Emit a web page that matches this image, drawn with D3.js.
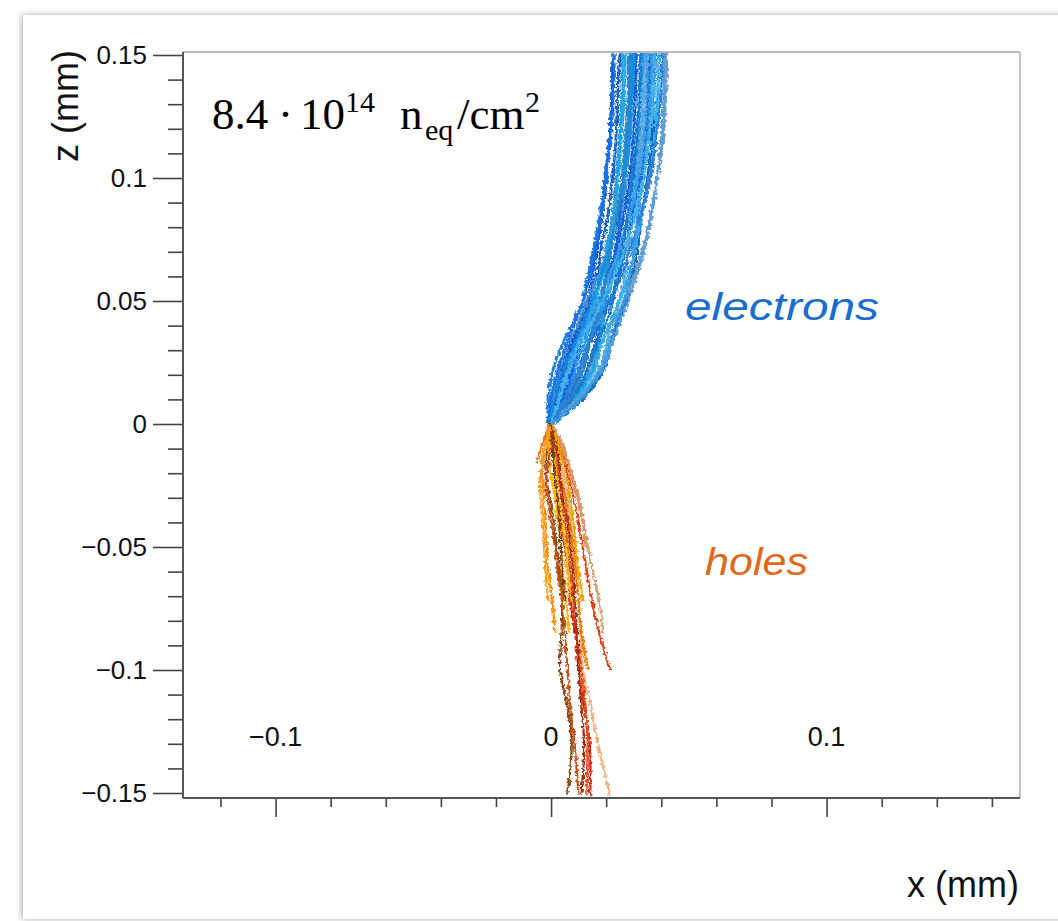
<!DOCTYPE html>
<html>
<head>
<meta charset="utf-8">
<script src="https://cdn.jsdelivr.net/npm/d3@7"></script>
<style>
  body { margin: 0; background: #fff; }
  .axis text { font-family: "Liberation Sans", Arial, Helvetica, sans-serif; fill: #111; }
  .axis line { stroke: #444; stroke-width: 1.6; }
  .axis path { display: none; }
</style>
</head>
<body>
<div id="chart"></div>
<script>
var eZ = [0, 8, 16, 24, 32, 40, 50, 60, 72, 85, 100, 115, 130, 151];
var hZ = [0, -8, -16, -24, -32, -40, -50, -60, -72, -85, -100, -115, -130, -151];

// electron paths, x in micrometres at each eZ level
var electronX = [
  [-1.0, -1.2, -0.6, 1.2, 4.0, 7.6, 11.3, 13.4, 15.6, 17.8, 19.5, 21.0, 22.0, 22.4],
  [-0.5, 1.2, 2.0, 4.5, 7.2, 9.8, 13.5, 15.0, 16.8, 18.6, 20.1, 21.2, 21.9, 22.6],
  [-0.3, 2.8, 5.0, 7.0, 9.0, 12.3, 16.0, 18.5, 20.0, 22.8, 24.4, 25.3, 26.4, 27.0],
  [0.0, 4.8, 8.0, 11.0, 13.5, 16.2, 19.0, 21.8, 23.7, 25.5, 27.2, 28.6, 29.4, 30.2],
  [0.2, 6.5, 11.5, 14.0, 15.8, 18.2, 20.0, 22.0, 23.5, 24.8, 26.0, 27.5, 28.0, 29.0],
  [0.3, 8.5, 14.0, 18.0, 20.0, 21.5, 24.5, 26.8, 28.2, 29.6, 31.0, 32.5, 33.4, 34.0],
  [0.4, 9.5, 15.8, 20.0, 21.8, 23.9, 27.2, 29.5, 31.5, 33.0, 35.0, 36.6, 37.2, 38.0],
  [-0.2, 3.5, 6.5, 9.0, 11.8, 14.5, 19.8, 22.5, 25.6, 28.0, 30.0, 31.5, 32.3, 33.2],
  [0.1, 5.8, 10.5, 14.5, 17.5, 21.5, 26.5, 30.0, 33.5, 36.0, 38.5, 40.5, 41.5, 42.0],
  [-0.6, 1.8, 3.0, 5.6, 7.8, 10.5, 14.0, 16.4, 18.3, 20.6, 22.3, 23.5, 24.0, 25.0],
  [0.3, 7.8, 12.8, 16.5, 18.2, 21.0, 25.0, 28.0, 30.5, 33.0, 35.8, 37.5, 38.5, 39.2],
  [0.0, 5.2, 8.8, 12.2, 14.0, 17.5, 21.5, 24.5, 27.2, 29.5, 32.5, 34.5, 35.2, 36.2],
  [-0.8, 0.2, 1.5, 3.5, 6.0, 9.5, 13.0, 17.0, 20.5, 23.5, 25.8, 26.8, 27.8, 28.3],
  [-0.4, 3.2, 6.0, 8.0, 10.5, 13.0, 17.5, 20.5, 24.0, 26.5, 28.5, 29.8, 30.5, 31.0],
  [0.2, 7.0, 12.0, 15.5, 17.0, 18.5, 18.8, 19.6, 20.8, 22.5, 23.6, 24.8, 25.5, 26.0],
  [-0.1, 4.0, 7.2, 10.5, 13.0, 16.0, 21.0, 25.5, 29.0, 32.5, 36.0, 38.0, 39.5, 40.5],
  [-0.4, 2.2, 4.0, 6.5, 9.8, 12.8, 17.0, 21.0, 25.0, 28.5, 31.5, 33.5, 34.5, 35.0],
  [0.1, 6.0, 10.5, 13.8, 16.5, 19.5, 22.5, 24.0, 26.0, 27.8, 29.5, 31.0, 31.8, 32.5],
  [-0.7, 0.8, 2.5, 5.0, 8.5, 11.5, 15.0, 18.0, 21.5, 24.0, 26.5, 28.0, 29.0, 29.8],
  [0.2, 7.5, 14.5, 19.5, 22.0, 24.5, 28.0, 31.0, 34.0, 36.5, 38.5, 40.0, 40.8, 41.2],
  [-0.9, -0.5, 1.0, 3.0, 5.5, 8.0, 11.8, 14.0, 16.0, 18.2, 20.0, 21.5, 22.5, 23.0],
  [0.0, 5.5, 9.5, 12.0, 13.5, 15.5, 18.0, 20.0, 22.0, 24.0, 25.8, 27.2, 28.2, 28.6],
  [0.3, 8.8, 14.8, 19.0, 21.0, 23.0, 26.5, 28.5, 30.0, 31.5, 33.5, 35.0, 36.0, 36.8],
  [-0.3, 2.5, 4.5, 7.5, 10.0, 14.0, 18.5, 23.0, 27.0, 30.5, 33.5, 35.5, 37.0, 37.5]
];
var electronColors = ["#1a7fe0", "#0b5cd6", "#28a8e8", "#3a8fd0", "#1c63d8", "#5aa8dc",
  "#0f6cc0", "#2196f3", "#6a9cc8", "#1d5fc8", "#30b0f0", "#1870d8", "#4a90d0", "#0a60e0",
  "#22a0e0", "#2f7fd8", "#3c9ce8", "#1e78c8", "#0e8ee0", "#5b9fd8", "#1f6fe8", "#2a86c8",
  "#3a9ae0", "#44b4ec"];

// hole paths, x in micrometres at each hZ level (shorter rows stop earlier)
var holeX = [
  [0.0, -1.0, -2.0, -1.5, 0.0, 1.0, 2.0, 3.0, 4.0, 3.8, 3.3, 6.0, 7.5, 5.8],
  [0.2, 0.5, 1.0, 1.8, 2.5, 3.5, 5.0, 6.0, 7.0, 8.8, 10.0, 12.0, 14.0, 14.2],
  [0.3, 1.0, 2.0, 3.0, 4.0, 5.0, 6.0, 7.0, 8.0, 9.5, 11.0, 12.5, 13.2, 12.8],
  [0.5, 2.0, 3.5, 5.0, 6.0, 7.0, 8.0, 9.0, 10.0, 10.8, 11.6, 14.5, 17.0, 21.4],
  [0.6, 3.0, 5.0, 7.0, 8.5, 10.0, 11.5, 13.0, 14.8, 17.5, 21.4],
  [0.5, 4.0, 6.5, 8.5, 10.5, 11.5, 13.4, 15.0, 17.5, 18.9],
  [0.0, -2.0, -3.5, -3.0, -2.5, -2.0, -1.5, -1.0, 0.5, 1.5],
  [0.2, 1.0, 2.5, 4.0, 5.5, 6.5, 8.0, 9.0, 10.0, 11.0, 13.4],
  [-0.3, -1.0, -0.5, 0.5, 1.5, 2.5, 3.5, 4.5, 5.5, 6.5],
  [0.0, 0.5, 1.5, 2.0, 3.0, 4.0, 5.5, 6.0, 7.5],
  [-0.5, -3.0, -5.4],
  [0.1, 0.0, -1.0, -2.0, -1.0, 0.0, 1.5, 2.5, 4.0, 5.0, 6.0, 7.0, 8.5, 10.0],
  [0.2, 1.5, 3.0, 3.5, 4.5, 6.0, 7.0, 8.0, 8.5, 9.5, 10.0, 11.0, 12.0, 11.0],
  [-0.2, -2.0, -3.0, -4.0, -3.6, -3.0, -2.5, -2.0, -1.0],
  [0.0, 0.5, 1.0, 1.5, 2.5, 3.0, 3.5, 4.0, 5.0],
  [0.4, 2.5, 4.5, 6.0, 7.0, 8.0, 9.0, 10.0, 11.5],
  [0.6, 3.5, 6.0, 8.0, 10.0, 11.6, 12.5]
];
var holeColors = ["#8b4513", "#d02810", "#e0501a", "#f5b080", "#e03a10", "#d0a070",
  "#ff8c00", "#f07800", "#ffb000", "#ffc418", "#e87020", "#c85010", "#a03010",
  "#ff9a20", "#7a3a10", "#f0a000", "#e8905a"];

var yMajor = [-0.15, -0.1, -0.05, 0, 0.05, 0.1, 0.15];
var yMinor = [-0.14, -0.13, -0.12, -0.11, -0.09, -0.08, -0.07, -0.06, -0.04, -0.03, -0.02, -0.01,
  0.01, 0.02, 0.03, 0.04, 0.06, 0.07, 0.08, 0.09, 0.11, 0.12, 0.13, 0.14];
var xMajor = [-0.1, 0, 0.1];
var xMinor = [-0.12, -0.08, -0.06, -0.04, -0.02, 0.02, 0.04, 0.06, 0.08, 0.12, 0.14, 0.16];

var width = 1058, height = 921;
var frame = {left: 183, right: 1020, top: 52, bottom: 798};

var svg = d3.select("#chart").append("svg")
  .attr("width", width)
  .attr("height", height);

var defs = svg.append("defs");

var shadow = defs.append("filter").attr("id", "shadow")
  .attr("x", "-5%").attr("y", "-5%").attr("width", "110%").attr("height", "110%");
shadow.append("feGaussianBlur").attr("in", "SourceAlpha").attr("stdDeviation", 3);
shadow.append("feOffset").attr("dx", -1).attr("dy", 0).attr("result", "blur");
shadow.append("feComponentTransfer").append("feFuncA").attr("type", "linear").attr("slope", 0.35);
var merge = shadow.append("feMerge");
merge.append("feMergeNode");
merge.append("feMergeNode").attr("in", "SourceGraphic");

// jitter for the drift lines
var rough = defs.append("filter").attr("id", "rough")
  .attr("x", "-10%").attr("y", "-10%").attr("width", "120%").attr("height", "120%");
rough.append("feTurbulence").attr("type", "fractalNoise")
  .attr("baseFrequency", 0.3).attr("numOctaves", 2).attr("seed", 3).attr("result", "noise");
rough.append("feDisplacementMap").attr("in", "SourceGraphic").attr("in2", "noise")
  .attr("scale", 6).attr("xChannelSelector", "R").attr("yChannelSelector", "G");

defs.append("clipPath").attr("id", "plotclip")
  .append("rect")
  .attr("x", frame.left).attr("y", frame.top)
  .attr("width", frame.right - frame.left).attr("height", frame.bottom - frame.top);

// card
svg.append("rect")
  .attr("x", 23).attr("y", 15)
  .attr("width", 1100).attr("height", 904)
  .attr("fill", "#fff")
  .attr("filter", "url(#shadow)");

var xScale = d3.scaleLinear()
  .domain([-0.1336, 0.1702])
  .range([frame.left, frame.right]);

var yScale = d3.scaleLinear()
  .domain([-0.15, 0.15])
  .range([793, 55]);

var fmt = d3.format("~g");

// y axis
svg.append("g")
  .attr("class", "axis")
  .attr("transform", `translate(${frame.left},0)`)
  .call(d3.axisLeft(yScale).tickValues(yMajor).tickSize(30).tickPadding(6).tickFormat(fmt))
  .selectAll("text").style("font-size", "26px");

svg.append("g")
  .attr("class", "axis")
  .attr("transform", `translate(${frame.left},0)`)
  .call(d3.axisLeft(yScale).tickValues(yMinor).tickSize(15).tickFormat(""));

// x axis (ticks below, labels inside the frame)
svg.append("g")
  .attr("class", "axis")
  .attr("transform", `translate(0,${frame.bottom})`)
  .call(d3.axisBottom(xScale).tickValues(xMajor).tickSize(19).tickFormat(""));

svg.append("g")
  .attr("class", "axis")
  .attr("transform", `translate(0,${frame.bottom})`)
  .call(d3.axisBottom(xScale).tickValues(xMinor).tickSize(9).tickFormat(""));

svg.append("g")
  .attr("class", "axis")
  .selectAll("text")
  .data(xMajor)
  .enter().append("text")
    .attr("x", d => xScale(d))
    .attr("y", 746)
    .attr("text-anchor", "middle")
    .style("font-size", "27px")
    .text(d => fmt(d));

// drift lines
var line = d3.line()
  .x(d => xScale(d[0]))
  .y(d => yScale(d[1]))
  .curve(d3.curveCatmullRom.alpha(0.5));

var plot = svg.append("g").attr("clip-path", "url(#plotclip)");

plot.append("g")
  .attr("filter", "url(#rough)")
  .selectAll("path")
  .data(electronX)
  .enter().append("path")
    .attr("d", row => line(row.map((v, i) => [v / 1000, eZ[i] / 1000])))
    .attr("fill", "none")
    .attr("stroke", (d, i) => electronColors[i % electronColors.length])
    .attr("stroke-width", 2.8)
    .attr("stroke-linejoin", "round");

plot.append("g")
  .attr("filter", "url(#rough)")
  .selectAll("path")
  .data(holeX)
  .enter().append("path")
    .attr("d", row => line(row.map((v, i) => [v / 1000, hZ[i] / 1000])))
    .attr("fill", "none")
    .attr("stroke", (d, i) => holeColors[i % holeColors.length])
    .attr("stroke-width", 2.3)
    .attr("stroke-linejoin", "round");

// frame
svg.append("line").attr("x1", frame.left).attr("x2", frame.right)
  .attr("y1", frame.top).attr("y2", frame.top)
  .attr("stroke", "#b8b8b8").attr("stroke-width", 2);
svg.append("line").attr("x1", frame.right).attr("x2", frame.right)
  .attr("y1", frame.top).attr("y2", frame.bottom)
  .attr("stroke", "#c4c4c4").attr("stroke-width", 2);
svg.append("line").attr("x1", frame.left).attr("x2", frame.left)
  .attr("y1", frame.top).attr("y2", frame.bottom)
  .attr("stroke", "#555").attr("stroke-width", 2);
svg.append("line").attr("x1", frame.left).attr("x2", frame.right)
  .attr("y1", frame.bottom).attr("y2", frame.bottom)
  .attr("stroke", "#555").attr("stroke-width", 2);

// axis titles
svg.append("text")
  .attr("x", 1019).attr("y", 897)
  .attr("text-anchor", "end")
  .style("font-family", "Liberation Sans, Arial, Helvetica, sans-serif")
  .style("font-size", "36px")
  .attr("fill", "#111")
  .text("x (mm)");

svg.append("text")
  .attr("transform", "translate(78,50) rotate(-90)")
  .attr("text-anchor", "end")
  .style("font-family", "Liberation Sans, Arial, Helvetica, sans-serif")
  .style("font-size", "36px")
  .attr("fill", "#111")
  .text("z (mm)");

// fluence annotation
var note = svg.append("text")
  .style("font-family", "Liberation Serif, Times New Roman, serif")
  .attr("fill", "#000");
note.append("tspan").attr("x", 212).attr("y", 129).style("font-size", "45px").text("8.4");
note.append("tspan").attr("x", 278).attr("y", 129).style("font-size", "45px").text("\u00b7");
note.append("tspan").attr("x", 300).attr("y", 129).style("font-size", "45px").text("10");
note.append("tspan").attr("x", 345).attr("y", 112).style("font-size", "30px").text("14");
note.append("tspan").attr("x", 400).attr("y", 129).style("font-size", "45px").text("n");
note.append("tspan").attr("x", 425).attr("y", 140).style("font-size", "30px").text("eq");
note.append("tspan").attr("x", 457).attr("y", 129).style("font-size", "45px").text("/cm");
note.append("tspan").attr("x", 525).attr("y", 112).style("font-size", "30px").text("2");

// carrier labels
svg.append("text")
  .attr("x", 685).attr("y", 320)
  .attr("textLength", 194).attr("lengthAdjust", "spacingAndGlyphs")
  .style("font-family", "Liberation Sans, Arial, sans-serif")
  .style("font-style", "italic")
  .style("font-size", "38px")
  .attr("fill", "#1a6dcc")
  .text("electrons");

svg.append("text")
  .attr("x", 705).attr("y", 575)
  .attr("textLength", 103).attr("lengthAdjust", "spacingAndGlyphs")
  .style("font-family", "Liberation Sans, Arial, sans-serif")
  .style("font-style", "italic")
  .style("font-size", "38px")
  .attr("fill", "#e0691c")
  .text("holes");
</script>
</body>
</html>
